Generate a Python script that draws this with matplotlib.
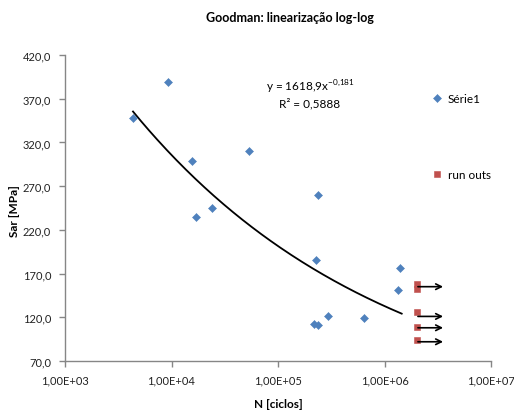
import matplotlib
matplotlib.use("Agg")
import matplotlib.pyplot as plt
from matplotlib.ticker import FixedLocator, FuncFormatter, NullLocator
import numpy as np

plt.rcParams['font.family'] = ['Lato', 'DejaVu Sans']
plt.rcParams['mathtext.fontset'] = 'custom'
plt.rcParams['mathtext.rm'] = 'Lato'

# Série1 data
serie_n = [4350, 9300, 15600, 17000, 24000, 53500, 238000, 227000, 218000, 238000, 295000, 640000, 1400000, 1340000]
serie_s = [348, 389, 299, 235, 245, 310, 260, 185.5, 112, 111, 121.5, 119, 176, 151]

# run outs
run_n = [2.0e6, 2.0e6, 2.0e6, 2.0e6, 2.0e6]
run_s = [152.5, 158, 125.5, 109, 94]
arrow_s = [155, 121, 108, 92]
arrow_end = 3.55e6

# power trend: y = a * x^b
trend_a = 1618.9
trend_b = -0.181

yticks = [70, 120, 170, 220, 270, 320, 370, 420]
xticks = [1e3, 1e4, 1e5, 1e6, 1e7]
xtick_labels = ["1,00E+03", "1,00E+04", "1,00E+05", "1,00E+06", "1,00E+07"]

fig = plt.figure(figsize=(5.14, 4.14), dpi=100)
ax = fig.add_axes([65/514, 1-362/414, (491-65)/514, (362-56)/414])

blue = '#4F81BD'
red = '#C0504D'
gray = '#868686'

ax.plot(serie_n, serie_s, linestyle='none', marker='D', ms=4.0, color=blue,
        mec=blue, mew=0.4, label='Série1', zorder=3)
ax.plot(run_n, run_s, linestyle='none', marker='s', ms=4.6, color=red,
        mec=red, mew=0.4, label='run outs', zorder=3)

xt = np.logspace(np.log10(min(serie_n)), np.log10(1.45e6), 200)
ax.plot(xt, trend_a * xt ** trend_b, color='black', lw=1.3, zorder=2)

for s in arrow_s:
    ax.annotate('', xy=(arrow_end, s), xytext=(run_n[0] * 1.03, s),
                arrowprops=dict(arrowstyle='->', color='black', lw=1.2,
                                shrinkA=0, shrinkB=0, mutation_scale=10),
                zorder=4)

ax.set_xscale('log')
ax.set_xlim(1e3, 1e7)
ax.set_ylim(70, 420)
ax.xaxis.set_major_locator(FixedLocator(xticks))
ax.xaxis.set_minor_locator(NullLocator())
ax.set_xticklabels(xtick_labels)
ax.yaxis.set_major_locator(FixedLocator(yticks))
ax.yaxis.set_major_formatter(FuncFormatter(lambda v, p: f"{v:.1f}".replace('.', ',')))

for sp in ['top', 'right']:
    ax.spines[sp].set_visible(False)
for sp in ['left', 'bottom']:
    ax.spines[sp].set_color(gray)
    ax.spines[sp].set_linewidth(1.0)
ax.tick_params(axis='both', direction='out', length=4, width=1.0, color=gray,
               labelsize=8, labelcolor='#222222', pad=6)

ax.text(0.575, 0.898, r'y = 1618,9x$^{\mathregular{-0{,}181}}$', transform=ax.transAxes,
        ha='center', va='center', fontsize=8.5)
ax.text(0.575, 0.843, 'R² = 0,5888', transform=ax.transAxes,
        ha='center', va='center', fontsize=8.5)

fig.text(290/514, 1-18/414, 'Goodman: linearização log-log', ha='center', va='center',
         fontsize=9.0, fontweight='bold')
fig.text(14/514, 1-211/414, 'Sar [MPa]', ha='center', va='center', rotation=90,
         fontsize=8.5, fontweight='bold')
fig.text(278/514, 1-405/414, 'N [ciclos]', ha='center', va='center',
         fontsize=8.5, fontweight='bold')

leg = fig.legend(loc='upper left', bbox_to_anchor=(431/514, 1-94/414), frameon=False,
                 fontsize=8.5, labelspacing=5.5, handletextpad=0.4, handlelength=1.0,
                 borderaxespad=0, borderpad=0)

fig.savefig('out.png', dpi=100)
